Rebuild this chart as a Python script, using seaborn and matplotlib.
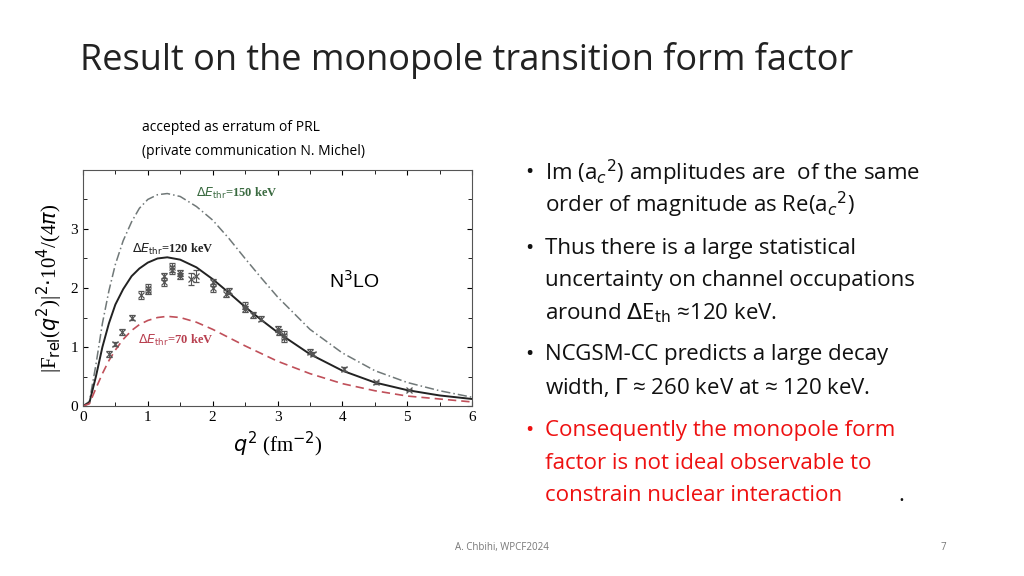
import numpy as np
import matplotlib
matplotlib.use("Agg")
import matplotlib.pyplot as plt
import seaborn as sns
import pandas as pd

q2 = [0, 0.1, 0.2, 0.3, 0.4, 0.5, 0.62, 0.75, 0.87, 1.0, 1.15, 1.3, 1.5, 1.75, 2.0, 2.25, 2.5, 2.75, 3.0, 3.5, 4.0, 4.5, 5.0, 5.5, 6.0]
f120 = [0, 0.06, 0.5, 1.0, 1.4, 1.72, 1.98, 2.2, 2.33, 2.43, 2.5, 2.52, 2.48, 2.35, 2.15, 1.92, 1.68, 1.46, 1.25, 0.88, 0.6, 0.4, 0.27, 0.18, 0.12]
f150 = [0, 0.08, 0.7, 1.4, 1.95, 2.4, 2.8, 3.12, 3.35, 3.5, 3.58, 3.6, 3.55, 3.38, 3.15, 2.84, 2.5, 2.17, 1.85, 1.3, 0.9, 0.6, 0.4, 0.26, 0.15]
f70 = [0, 0.04, 0.3, 0.55, 0.77, 0.95, 1.13, 1.28, 1.38, 1.45, 1.5, 1.52, 1.5, 1.42, 1.3, 1.16, 1.02, 0.89, 0.76, 0.55, 0.38, 0.26, 0.17, 0.12, 0.07]
data_x = [0.4, 0.5, 0.6, 0.75, 0.9, 1.0, 1.0, 1.25, 1.25, 1.37, 1.37, 1.5, 1.5, 1.67, 1.75, 2.0, 2.0,
          2.2, 2.25, 2.5, 2.5, 2.62, 2.75, 3.0, 3.02, 3.1, 3.1, 3.5, 3.55, 4.02, 4.52, 5.02]
data_y = [0.88, 1.05, 1.25, 1.5, 1.88, 1.95, 2.0, 2.1, 2.2, 2.35, 2.3, 2.2, 2.25, 2.15, 2.2, 2.0, 2.1,
          1.9, 1.95, 1.7, 1.65, 1.55, 1.48, 1.3, 1.25, 1.2, 1.15, 0.92, 0.88, 0.63, 0.4, 0.27]
data_err = [0.05, 0.04, 0.05, 0.05, 0.07, 0.06, 0.06, 0.07, 0.06, 0.08, 0.07, 0.05, 0.05, 0.1, 0.1, 0.06, 0.06,
            0.06, 0.05, 0.06, 0.05, 0.05, 0.04, 0.05, 0.05, 0.07, 0.07, 0.04, 0.04, 0.03, 0.02, 0.02]

fig = plt.figure(figsize=(10.24, 5.76), dpi=100)
fig.patch.set_facecolor("white")
ax = fig.add_axes([0.081, 0.295, 0.380, 0.41])

df = pd.DataFrame({"q2": q2, "f120": f120, "f150": f150, "f70": f70})
sns.lineplot(data=df, x="q2", y="f150", ax=ax, color="#707878", lw=1.1, linestyle=(0, (6, 2, 1, 2)))
sns.lineplot(data=df, x="q2", y="f120", ax=ax, color="#222222", lw=1.4)
sns.lineplot(data=df, x="q2", y="f70", ax=ax, color="#c0505a", lw=1.2, linestyle=(0, (5, 3)))
ax.errorbar(data_x, data_y, yerr=data_err, fmt="x", color="#555555", ms=5, mew=0.9, elinewidth=0.8, capsize=2)

serif = "Liberation Serif"
ax.text(1.75, 3.55, r"$\Delta E_{\mathrm{thr}}$=150 keV", color="#3a6a40", fontsize=9, family=serif, fontweight="bold")
ax.text(0.75, 2.6, r"$\Delta E_{\mathrm{thr}}$=120 keV", color="#222222", fontsize=9, family=serif, fontweight="bold")
ax.text(0.85, 1.05, r"$\Delta E_{\mathrm{thr}}$=70 keV", color="#b84050", fontsize=9, family=serif, fontweight="bold")
ax.text(3.8, 2.0, r"N$^3$LO", fontsize=14, family="Liberation Sans")

ax.set_xlim(0, 6)
ax.set_ylim(0, 4.0)
ax.set_xticks(range(0, 7))
ax.set_yticks(range(0, 4))
ax.set_xticks(np.arange(0, 6.01, 0.5), minor=True)
ax.set_yticks(np.arange(0, 4.01, 0.5), minor=True)
ax.tick_params(direction="in", top=True, right=True, which="both", labelsize=11)
ax.tick_params(which="minor", length=3)
for lab in ax.get_xticklabels() + ax.get_yticklabels():
    lab.set_family(serif)
ax.set_xlabel(r"$q^2$ (fm$^{-2}$)", fontsize=15, family=serif)
ax.set_ylabel(r"|F$_{\mathrm{rel}}$($q^2$)|$^2$$\cdot$10$^4$/(4$\pi$)", fontsize=15, family=serif)
for s in ax.spines.values():
    s.set_color("#555555")

font = "Open Sans"
fig.text(0.078, 0.895, "Result on the monopole transition form factor", fontsize=26, family=font, color="#222222", va="center")
fig.text(0.139, 0.778, "accepted as erratum of PRL", fontsize=10, family=font, va="center")
fig.text(0.139, 0.737, "(private communication N. Michel)", fontsize=10, family=font, va="center")

bx, tx = 0.513, 0.532
lines = [
    (0.70, "•", "Im (a$_c$$^2$) amplitudes are  of the same", "#111111"),
    (0.645, "", "order of magnitude as Re(a$_c$$^2$)", "#111111"),
    (0.569, "•", "Thus there is a large statistical", "#111111"),
    (0.513, "", "uncertainty on channel occupations", "#111111"),
    (0.456, "", r"around $\Delta$E$_{\mathrm{th}}$ ≈120 keV.", "#111111"),
    (0.384, "•", "NCGSM-CC predicts a large decay", "#111111"),
    (0.327, "", r"width, $\Gamma$ ≈ 260 keV at ≈ 120 keV.", "#111111"),
    (0.252, "•", "Consequently the monopole form", "#ee1111"),
    (0.196, "", "factor is not ideal observable to", "#ee1111"),
    (0.140, "", "constrain nuclear interaction", "#ee1111"),
]
for y, b, t, c in lines:
    if b:
        fig.text(bx, y, b, fontsize=16, family=font, color=c, va="center")
    fig.text(tx, y, t, fontsize=16, family=font, color=c, va="center")
fig.text(0.877, 0.140, ".", fontsize=16, family=font, color="#111111", va="center")

fig.text(0.49, 0.045, "A. Chbihi, WPCF2024", fontsize=7, family=font, color="#777777", ha="center")
fig.text(0.921, 0.045, "7", fontsize=7, family=font, color="#777777", ha="center")

fig.savefig("out.png", dpi=100)
